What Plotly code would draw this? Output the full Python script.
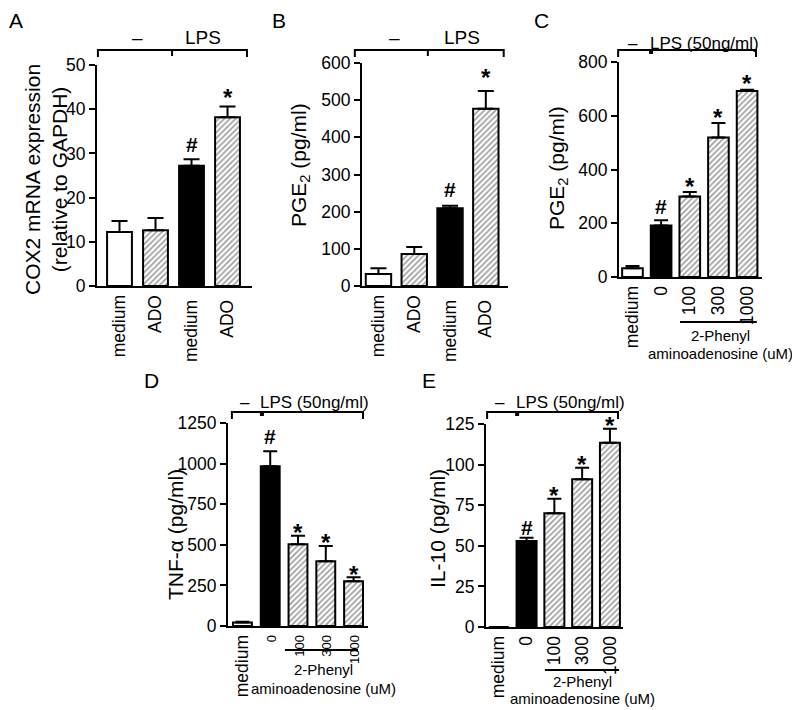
import plotly.graph_objects as go

# The page adds an 8px body margin, so the figure is drawn 8px smaller and
# reference pixel coordinates are shifted by OFF.
W, H = 792, 702
OFF = 8
FONT = "Liberation Sans, Arial, sans-serif"

# ---------------- data ----------------
cats_ab = ["medium", "ADO", "medium ", "ADO "]
cats_cde = ["medium", "0", "100", "300", "1000"]

a_vals = [12.2, 12.6, 27.2, 38.2]
a_errs = [14.7, 15.4, 28.7, 40.6]
a_marks = ["", "", "#", "*"]

b_vals = [32, 86, 209, 477]
b_errs = [48, 105, 216, 525]
b_marks = ["", "", "#", "*"]

c_vals = [33, 192, 300, 519, 692]
c_errs = [41, 211, 316, 573, 697]
c_marks = ["", "#", "*", "*", "*"]

d_vals = [22, 983, 503, 398, 275]
d_errs = [26, 1076, 556, 493, 300]
d_marks = ["", "#", "*", "*", "*"]

e_vals = [0, 53, 70, 91, 113.5]
e_errs = [0, 55, 79, 98, 122]
e_marks = ["", "#", "*", "*", "*"]

colors_ab = ["white", "white", "black", "white"]
shapes_ab = ["", "/", "", "/"]
colors_cde = ["white", "black", "white", "white", "white"]
shapes_cde = ["", "", "/", "/", "/"]

panels = [
    dict(letter="A", cats=cats_ab, vals=a_vals, errs=a_errs, marks=a_marks,
         colors=colors_ab, pat=shapes_ab, dx=(97, 252), dy=(65, 286),
         xr=(-0.625, 3.68), yr=(0, 50), dtick=10, width=0.69, cap=8,
         title="COX2 mRNA expression<br>(relative to GAPDH)", tpos=(46, 180),
         lpos=(16, 20), bracket=(-0.6, 3.54, 1.46, 50, "tick"),
         minus=(0.51, 37), lps=("LPS", 2.32, 37, 19), phenyl=None,
         moff={"*": 15, "#": 16}, small_digits=False),
    dict(letter="B", cats=cats_ab, vals=b_vals, errs=b_errs, marks=b_marks,
         colors=colors_ab, pat=shapes_ab, dx=(362, 508), dy=(63, 286),
         xr=(-0.46, 3.62), yr=(0, 600), dtick=100, width=0.71, cap=8,
         title="PGE<sub>2</sub> (pg/ml)", tpos=(300, 165),
         lpos=(279, 20), bracket=(-0.66, 3.5, 1.38, 50, "tick"),
         minus=(0.46, 37), lps=("LPS", 2.33, 37, 19), phenyl=None,
         moff={"*": 19, "#": 17}, small_digits=False),
    dict(letter="C", cats=cats_cde, vals=c_vals, errs=c_errs, marks=c_marks,
         colors=colors_cde, pat=shapes_cde, dx=(619, 762), dy=(62, 277),
         xr=(-0.47, 4.52), yr=(0, 800), dtick=200, width=0.72, cap=7,
         title="PGE<sub>2</sub> (pg/ml)", tpos=(558, 168),
         lpos=(541, 20), bracket=(-0.5, 4.31, 0.65, 50, "square"),
         minus=(0.02, 43), lps=("LPS (50ng/ml)", 2.5, 43, 17),
         phenyl=(1.66, 4.34, 322, 720, 335, 354),
         moff={"*": 12, "#": 15}, small_digits=False),
    dict(letter="D", cats=cats_cde, vals=d_vals, errs=d_errs, marks=d_marks,
         colors=colors_cde, pat=shapes_cde, dx=(228, 368), dy=(423, 626),
         xr=(-0.52, 4.52), yr=(0, 1250), dtick=250, width=0.68, cap=7,
         title="TNF-α (pg/ml)", tpos=(175, 535),
         lpos=(151, 380), bracket=(-0.38, 4.34, 0.70, 412, "square"),
         minus=(0.09, 402), lps=("LPS (50ng/ml)", 2.6, 402, 17),
         phenyl=(1.53, 4.16, 650, 323, 669, 688),
         moff={"*": 9, "#": 16}, small_digits=True),
    dict(letter="E", cats=cats_cde, vals=e_vals, errs=e_errs, marks=e_marks,
         colors=colors_cde, pat=shapes_cde, dx=(486, 623), dy=(424, 627),
         xr=(-0.46, 4.47), yr=(0, 125), dtick=25, width=0.72, cap=7,
         title="IL-10 (pg/ml)", tpos=(437, 528),
         lpos=(429, 380), bracket=(-0.42, 4.29, 0.66, 412, "square"),
         minus=(0.05, 402), lps=("LPS (50ng/ml)", 2.57, 402, 17),
         phenyl=(1.66, 4.33, 670, 582, 681, 698),
         moff={"*": 9, "#": 11}, small_digits=False),
]

GLYPH_CORR = {"*": 6, "#": 1}

def px2fx(x):
    return (x - OFF) / W

def px2fy(y):
    return 1 - (y - OFF) / H

fig = go.Figure()
shapes = []
annotations = []

for k, p in enumerate(panels):
    n = "" if k == 0 else str(k + 1)
    xa, ya = "x" + n, "y" + n

    def idx2px(i, p=p):
        x0, x1 = p["dx"]
        r0, r1 = p["xr"]
        return x0 + (i - r0) / (r1 - r0) * (x1 - x0)

    up = [e - v for e, v in zip(p["errs"], p["vals"])]
    fig.add_trace(go.Bar(
        x=p["cats"], y=p["vals"], xaxis=xa, yaxis=ya, width=p["width"],
        marker=dict(color=p["colors"], line=dict(color="black", width=2),
                    pattern=dict(shape=p["pat"], fgcolor="black", size=4,
                                 solidity=0.45, fillmode="overlay")),
        error_y=dict(type="data", symmetric=False, array=up,
                     arrayminus=[0] * len(up), color="black",
                     thickness=2, width=p["cap"], visible=True),
        showlegend=False, hoverinfo="skip",
    ))

    if p["small_digits"]:
        ticktext = [c if not c.strip().isdigit() else
                    '<span style="font-size:13px">%s</span>' % c for c in p["cats"]]
    else:
        ticktext = list(p["cats"])

    ax = dict(domain=[px2fx(p["dx"][0]), px2fx(p["dx"][1])], anchor=ya,
              range=list(p["xr"]), type="category", showline=True,
              linecolor="black", linewidth=2, ticks="", tickangle=-90,
              tickmode="array", tickvals=list(p["cats"]), ticktext=ticktext,
              tickfont=dict(size=17.5, color="black", family=FONT),
              showgrid=False, zeroline=False, fixedrange=True, automargin=False,
              categoryorder="array", categoryarray=p["cats"])
    ay = dict(domain=[px2fy(p["dy"][1]), px2fy(p["dy"][0])], anchor=xa,
              range=list(p["yr"]), showline=True, linecolor="black",
              linewidth=2, ticks="outside", ticklen=6, tickwidth=2,
              tickcolor="black", dtick=p["dtick"], tick0=0,
              tickfont=dict(size=17.5, color="black", family=FONT),
              showgrid=False, zeroline=False, fixedrange=True, automargin=False)
    fig.layout["xaxis" + n] = ax
    fig.layout["yaxis" + n] = ay

    # significance marks (x given as category index)
    for i, (e, m) in enumerate(zip(p["errs"], p["marks"])):
        if m:
            annotations.append(dict(
                x=i, y=e, xref=xa, yref=ya, text="<b>%s</b>" % m,
                showarrow=False, yanchor="middle",
                yshift=p["moff"][m] - GLYPH_CORR[m],
                font=dict(size=21 if m == "#" else 24, color="black", family=FONT)))

    # panel letter
    annotations.append(dict(x=px2fx(p["lpos"][0]), y=px2fy(p["lpos"][1]),
                            xref="paper", yref="paper", text=p["letter"],
                            showarrow=False, xanchor="center", yanchor="middle",
                            font=dict(size=21, color="black", family=FONT)))
    # y title
    annotations.append(dict(x=px2fx(p["tpos"][0]), y=px2fy(p["tpos"][1]),
                            xref="paper", yref="paper", text=p["title"],
                            textangle=-90, showarrow=False,
                            xanchor="center", yanchor="middle",
                            font=dict(size=21, color="black", family=FONT)))

    # bracket
    b0, b1, bm, by, kind = p["bracket"]
    x0, x1, xm = idx2px(b0), idx2px(b1), idx2px(bm)
    line = dict(color="black", width=2)
    shapes.append(dict(type="line", xref="paper", yref="paper",
                       x0=px2fx(x0), x1=px2fx(x1), y0=px2fy(by), y1=px2fy(by), line=line))
    for xx in (x0, x1):
        shapes.append(dict(type="line", xref="paper", yref="paper",
                           x0=px2fx(xx), x1=px2fx(xx), y0=px2fy(by - 1), y1=px2fy(by + 7),
                           line=line))
    if kind == "tick":
        shapes.append(dict(type="line", xref="paper", yref="paper",
                           x0=px2fx(xm), x1=px2fx(xm), y0=px2fy(by), y1=px2fy(by + 6),
                           line=line))
    else:
        shapes.append(dict(type="rect", xref="paper", yref="paper",
                           x0=px2fx(xm - 2), x1=px2fx(xm + 2), y0=px2fy(by), y1=px2fy(by + 4),
                           line=dict(width=0), fillcolor="black"))

    # "–" and LPS label
    mi, my = p["minus"]
    annotations.append(dict(x=px2fx(idx2px(mi)), y=px2fy(my), xref="paper", yref="paper",
                            text="–", showarrow=False, xanchor="center", yanchor="middle",
                            font=dict(size=p["lps"][3], color="black", family=FONT)))
    lt, li, ly, lsz = p["lps"]
    annotations.append(dict(x=px2fx(idx2px(li)), y=px2fy(ly), xref="paper", yref="paper",
                            text=lt, showarrow=False, xanchor="center", yanchor="middle",
                            font=dict(size=lsz, color="black", family=FONT)))

    # 2-Phenyl aminoadenosine underline + text
    if p["phenyl"]:
        u0, u1, uy, tx, t1y, t2y = p["phenyl"]
        shapes.append(dict(type="line", xref="paper", yref="paper",
                           x0=px2fx(idx2px(u0)), x1=px2fx(idx2px(u1)),
                           y0=px2fy(uy), y1=px2fy(uy), line=line))
        annotations.append(dict(x=px2fx(tx), y=px2fy(t1y), xref="paper", yref="paper",
                                text="2-Phenyl", showarrow=False,
                                xanchor="center", yanchor="middle",
                                font=dict(size=15, color="black", family=FONT)))
        annotations.append(dict(x=px2fx(tx), y=px2fy(t2y), xref="paper", yref="paper",
                                text="aminoadenosine (uM)", showarrow=False,
                                xanchor="center", yanchor="middle",
                                font=dict(size=15, color="black", family=FONT)))

fig.update_layout(template="none", width=W, height=H,
                  margin=dict(l=0, r=0, t=0, b=0, pad=0),
                  paper_bgcolor="white", plot_bgcolor="white",
                  shapes=shapes, annotations=annotations,
                  font=dict(family=FONT, color="black"), bargap=0.3)

fig.write_html("out.html")
